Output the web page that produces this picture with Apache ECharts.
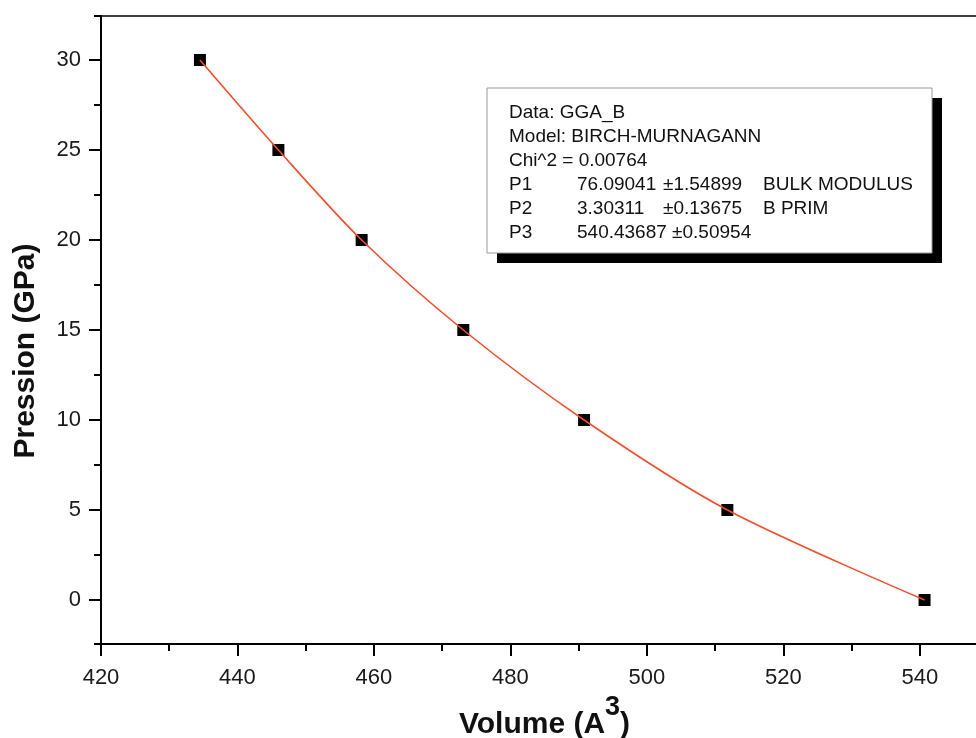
<!DOCTYPE html>
<html>
<head>
<meta charset="utf-8">
<script src="https://cdn.jsdelivr.net/npm/echarts@6/dist/echarts.min.js"></script>
<style>
  html, body { margin: 0; padding: 0; background: #fff; }
  #chart { width: 976px; height: 738px; }
</style>
</head>
<body>
<div id="chart"></div>
<script>
// Measured volume (A^3) and pressure (GPa) points
const volume   = [434.5, 446.0, 458.2, 473.1, 490.8, 511.8, 540.7];
const pression = [30, 25, 20, 15, 10, 5, 0];

// Axis ticks
const yMajorTicks = [0, 5, 10, 15, 20, 25, 30];
const yMinorTicks = [2.5, 7.5, 12.5, 17.5, 22.5, 27.5];
const xMajorTicks = [420, 440, 460, 480, 500, 520, 540];
const xMinorTicks = [430, 450, 470, 490, 510, 530];

// Fit report lines
const fitHeader = ['Data: GGA_B', 'Model: BIRCH-MURNAGANN', 'Chi^2 = 0.00764'];
const fitParams = [
  ['P1', '76.09041', '\u00b11.54899', 'BULK MODULUS'],
  ['P2', '3.30311', '\u00b10.13675', 'B PRIM'],
  ['P3', '540.43687 \u00b10.50954', '', '']
];

const X_MIN = 420, X_MAX = 550;
const Y_MIN = -2.444, Y_MAX = 32.444;

const points = volume.map((v, i) => [v, pression[i]]);

const FONT = '"Liberation Sans", Arial, sans-serif';

const chart = echarts.init(document.getElementById('chart'), null, { renderer: 'canvas' });

// Fit report box with drop shadow
const boxX = 487, boxY = 88, boxW = 445, boxH = 165, lineH = 24;
const boxChildren = [
  { type: 'rect', shape: { x: boxX + 10, y: boxY + 10, width: boxW, height: boxH }, style: { fill: '#000' } },
  { type: 'rect', shape: { x: boxX, y: boxY, width: boxW, height: boxH }, style: { fill: '#fff', stroke: '#9a9a9a', lineWidth: 1 } }
];
const textRows = [];
fitHeader.forEach(t => textRows.push([[t, 0]]));
fitParams.forEach(r => textRows.push([[r[0], 0], [r[1], 68], [r[2], 154], [r[3], 254]]));
textRows.forEach((row, i) => {
  row.forEach(([txt, dx]) => {
    if (!txt) return;
    boxChildren.push({
      type: 'text',
      style: {
        text: txt, x: boxX + 22 + dx, y: boxY + 25 + i * lineH,
        fill: '#111', font: '19px ' + FONT, verticalAlign: 'middle', align: 'left'
      }
    });
  });
});

const option = {
  backgroundColor: '#fff',
  animation: false,
  grid: { left: 101, top: 16, width: 887, height: 628, show: false, containLabel: false, outerBoundsMode: 'none' },
  xAxis: [
    {
      type: 'value', position: 'bottom', min: X_MIN, max: X_MAX,
      name: '{t|Volume (A}{s|3}{t|)}', nameLocation: 'middle', nameGap: 44,
      nameTextStyle: {
        rich: {
          t: { fontFamily: FONT, fontWeight: 'bold', fontSize: 30, color: '#111', lineHeight: 46, verticalAlign: 'bottom' },
          s: { fontFamily: FONT, fontWeight: 'bold', fontSize: 27, color: '#111', lineHeight: 46, verticalAlign: 'top' }
        }
      },
      axisLine: { onZero: false, lineStyle: { color: '#000', width: 2 } },
      axisTick: { show: true, inside: false, length: 12, lineStyle: { color: '#000', width: 2 }, customValues: xMajorTicks },
      axisLabel: { customValues: xMajorTicks, margin: 23, fontSize: 22, fontFamily: FONT, color: '#1a1a1a' },
      splitLine: { show: false }
    },
    {
      type: 'value', position: 'bottom', min: X_MIN, max: X_MAX,
      axisLine: { show: false, onZero: false },
      axisTick: { show: true, length: 7, lineStyle: { color: '#000', width: 2 }, customValues: xMinorTicks },
      axisLabel: { show: false },
      splitLine: { show: false }
    },
    {
      type: 'value', position: 'top', min: X_MIN, max: X_MAX,
      axisLine: { show: true, onZero: false, lineStyle: { color: '#000', width: 1.5 } },
      axisTick: { show: false }, axisLabel: { show: false }, splitLine: { show: false }
    }
  ],
  yAxis: [
    {
      type: 'value', position: 'left', min: Y_MIN, max: Y_MAX,
      name: 'Pression (GPa)', nameLocation: 'middle', nameGap: 60, nameRotate: 90,
      nameTextStyle: { fontFamily: FONT, fontWeight: 'bold', fontSize: 30, color: '#111', padding: [0, 42, 0, 0] },
      axisLine: { onZero: false, lineStyle: { color: '#000', width: 2 } },
      axisTick: { show: true, length: 12, lineStyle: { color: '#000', width: 2 }, customValues: yMajorTicks },
      axisLabel: { customValues: yMajorTicks, margin: 20, fontSize: 22, fontFamily: FONT, color: '#1a1a1a' },
      splitLine: { show: false }
    },
    {
      type: 'value', position: 'left', min: Y_MIN, max: Y_MAX,
      axisLine: { show: false, onZero: false },
      axisTick: { show: true, length: 7, lineStyle: { color: '#000', width: 2 }, customValues: [Y_MIN].concat(yMinorTicks, [Y_MAX]) },
      axisLabel: { show: false },
      splitLine: { show: false }
    }
  ],
  series: [
    {
      name: 'GGA_B', type: 'scatter', xAxisIndex: 0, yAxisIndex: 0,
      data: points, symbol: 'rect', symbolSize: 12,
      itemStyle: { color: '#000', opacity: 1 }, z: 2
    },
    {
      name: 'Birch-Murnaghan', type: 'line', xAxisIndex: 0, yAxisIndex: 0,
      data: points, smooth: 0.3, showSymbol: false,
      lineStyle: { color: '#f24d2c', width: 1.6 }, z: 3
    }
  ],
  graphic: [{ type: 'group', children: boxChildren }]
};

chart.setOption(option);
</script>
</body>
</html>
